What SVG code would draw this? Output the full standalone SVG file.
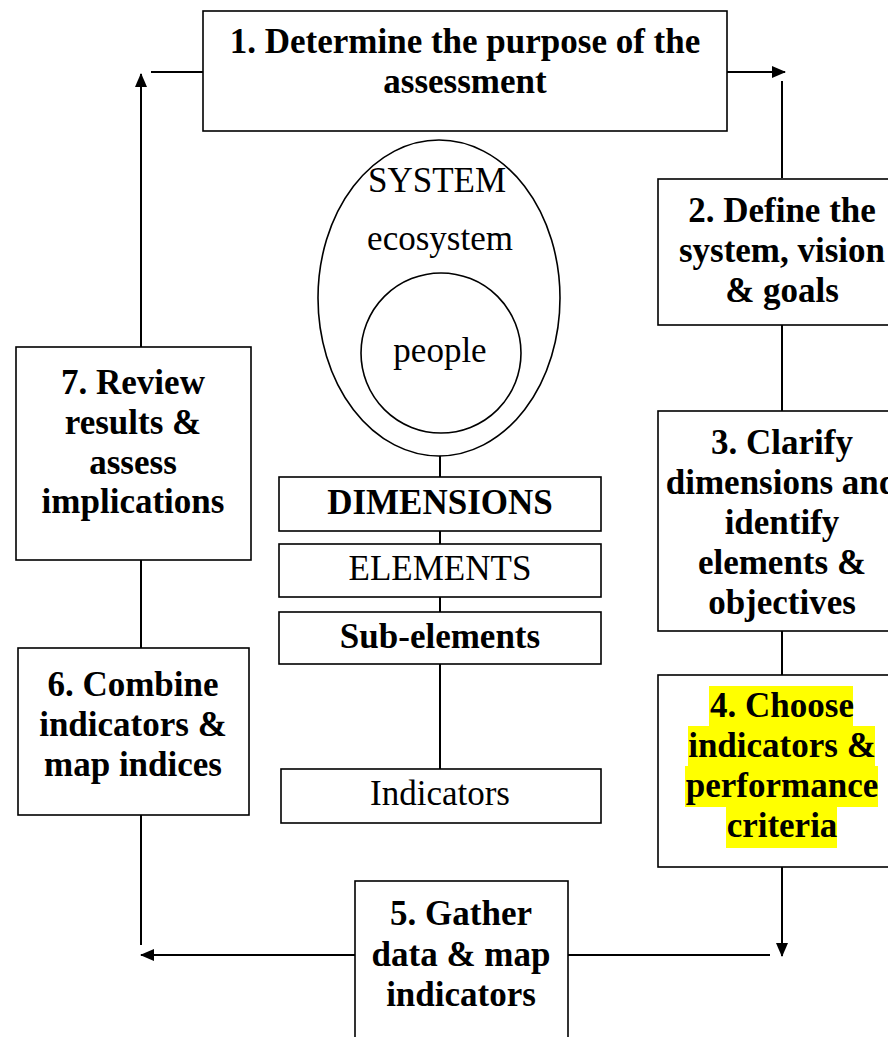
<svg xmlns="http://www.w3.org/2000/svg" width="888" height="1037" viewBox="0 0 888 1037">
<defs>
<marker id="ah" markerWidth="14" markerHeight="12" refX="13" refY="6" orient="auto" markerUnits="userSpaceOnUse">
<path d="M0,0 L14,6 L0,12 Z" fill="#000"/>
</marker>
<style>
.box{fill:#fff;stroke:#000;stroke-width:1.6}
.conn{fill:none;stroke:#000;stroke-width:2}
.b{font-family:"Liberation Serif","Times New Roman",serif;font-weight:bold;font-size:35px;text-anchor:middle;fill:#000}
.r{font-family:"Liberation Serif","Times New Roman",serif;font-size:35px;text-anchor:middle;fill:#000}
.hl{fill:#ffff00}
</style>
</defs>
<rect width="888" height="1037" fill="#fff"/>
<g id="connectors">
<line class="conn" x1="141" y1="945" x2="141" y2="74" marker-end="url(#ah)"/>
<line class="conn" x1="151" y1="72" x2="203" y2="72"/>
<line class="conn" x1="727" y1="72" x2="785" y2="72" marker-end="url(#ah)"/>
<line class="conn" x1="782" y1="81" x2="782" y2="178"/>
<line class="conn" x1="782" y1="325" x2="782" y2="411"/>
<line class="conn" x1="782" y1="631" x2="782" y2="675"/>
<line class="conn" x1="782" y1="867" x2="782" y2="956" marker-end="url(#ah)"/>
<line class="conn" x1="770" y1="955" x2="568" y2="955"/>
<line class="conn" x1="355" y1="955" x2="141" y2="955" marker-end="url(#ah)"/>
<line class="conn" x1="440" y1="455" x2="440" y2="769"/>
</g>
<g id="n1"><rect class="box" x="203" y="11" width="524" height="120"/>
<text class="b" x="465" y="53">1. Determine the purpose of the</text>
<text class="b" x="465" y="93">assessment</text></g>
<g id="n2"><rect class="box" x="658" y="179" width="250" height="146"/>
<text class="b" x="782" y="222">2. Define the</text>
<text class="b" x="782" y="262">system, vision</text>
<text class="b" x="782" y="302">&amp; goals</text></g>
<g id="n3"><rect class="box" x="658" y="411" width="250" height="220"/>
<text class="b" x="782" y="454">3. Clarify</text>
<text class="b" x="782" y="494">dimensions and</text>
<text class="b" x="782" y="534">identify</text>
<text class="b" x="782" y="574">elements &amp;</text>
<text class="b" x="782" y="614">objectives</text></g>
<g id="n4"><rect class="box" x="658" y="675" width="250" height="192"/>
<rect class="hl" x="709" y="686" width="144" height="41"/>
<rect class="hl" x="688" y="726" width="187" height="41"/>
<rect class="hl" x="685" y="766" width="193" height="41"/>
<rect class="hl" x="726" y="806" width="111" height="42"/>
<text class="b" x="782" y="717">4. Choose</text>
<text class="b" x="782" y="757">indicators &amp;</text>
<text class="b" x="782" y="797">performance</text>
<text class="b" x="782" y="837">criteria</text></g>
<g id="n5"><rect class="box" x="355" y="881" width="213" height="170"/>
<text class="b" x="461" y="925">5. Gather</text>
<text class="b" x="461" y="966">data &amp; map</text>
<text class="b" x="461" y="1006">indicators</text></g>
<g id="n6"><rect class="box" x="18" y="648" width="231" height="167"/>
<text class="b" x="133" y="696">6. Combine</text>
<text class="b" x="133" y="736">indicators &amp;</text>
<text class="b" x="133" y="776">map indices</text></g>
<g id="n7"><rect class="box" x="16" y="347" width="235" height="213"/>
<text class="b" x="133" y="394">7. Review</text>
<text class="b" x="133" y="434">results &amp;</text>
<text class="b" x="133" y="474">assess</text>
<text class="b" x="133" y="513">implications</text></g>
<g id="system"><ellipse cx="439" cy="298" rx="121" ry="158" fill="#fff" stroke="#000" stroke-width="1.6"/>
<text class="r" x="437" y="192">SYSTEM</text>
<text class="r" x="440" y="250">ecosystem</text></g>
<g id="people"><circle cx="441" cy="353" r="80" fill="#fff" stroke="#000" stroke-width="1.6"/>
<text class="r" x="440" y="362">people</text></g>
<g id="dimensions"><rect class="box" x="279" y="477" width="322" height="54"/>
<text class="b" x="440" y="514">DIMENSIONS</text></g>
<g id="elements"><rect class="box" x="279" y="544" width="322" height="53"/>
<text class="r" x="440" y="580">ELEMENTS</text></g>
<g id="subelements"><rect class="box" x="279" y="612" width="322" height="52"/>
<text class="b" x="440" y="648">Sub-elements</text></g>
<g id="indicators"><rect class="box" x="281" y="769" width="320" height="54"/>
<text class="r" x="440" y="805">Indicators</text></g>
</svg>
